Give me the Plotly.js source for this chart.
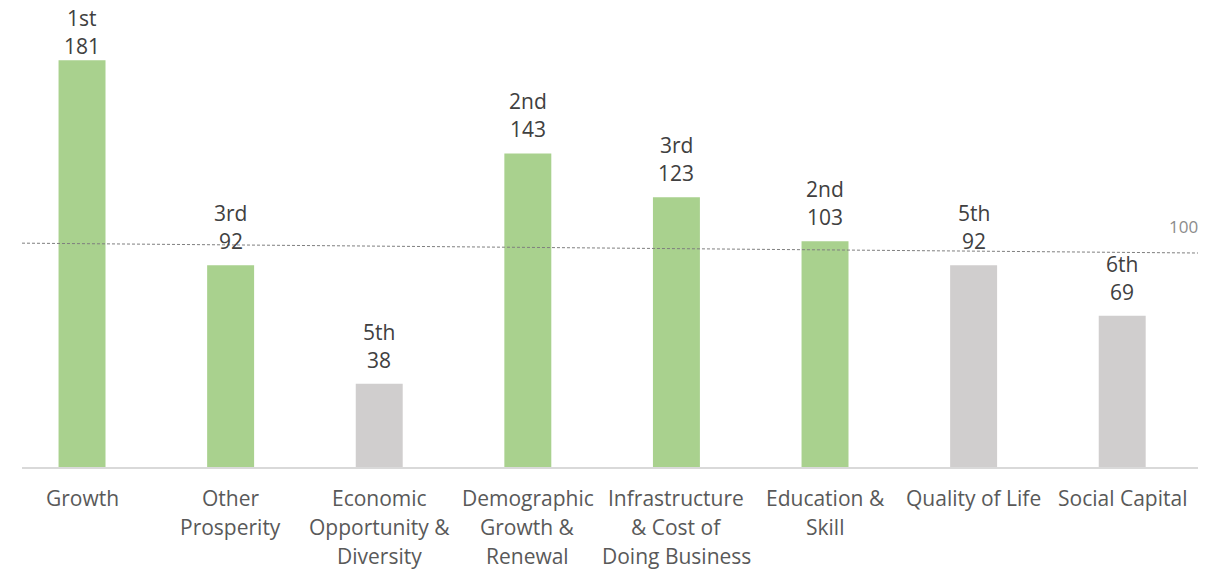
<!DOCTYPE html>
<html>
<head>
<meta charset="utf-8">
<script src="https://cdn.plot.ly/plotly-3.0.1.min.js"></script>
<style>html,body{margin:0;padding:0;background:#fff;}#chart{width:1206px;height:569px;}</style>
</head>
<body>
<div id="chart"></div>
<script>
const categories = ["Growth", "Other<br>Prosperity", "Economic<br>Opportunity &<br>Diversity", "Demographic<br>Growth &<br>Renewal", "Infrastructure<br>& Cost of<br>Doing Business", "Education &<br>Skill", "Quality of Life", "Social Capital"];
const values = [185.5, 92, 38, 143, 123, 103, 92, 69];
const labelValues = [181, 92, 38, 143, 123, 103, 92, 69];
const ranks = ["1st", "3rd", "5th", "2nd", "3rd", "2nd", "5th", "6th"];
const highlighted = [true, true, false, true, true, true, false, false];
const refLineX = [-0.404, 7.51];
const refLineY = [102.1, 97.6];
const refLabel = "100";

const idx = categories.map((_, i) => i);
const green = "#a9d18e", grey = "#d0cece";
const font = "Open Sans, Noto Sans, sans-serif";

const traces = [
  {
    type: "bar",
    x: idx,
    y: values,
    width: 0.316,
    marker: {color: highlighted.map(h => h ? green : grey)},
    hoverinfo: "none",
    showlegend: false
  },
  {
    type: "scatter",
    mode: "lines",
    x: refLineX,
    y: refLineY,
    line: {color: "#7f7f7f", width: 1, dash: "3px,2px"},
    hoverinfo: "none",
    showlegend: false,
    cliponaxis: false
  }
];

const annotations = [];
idx.forEach(i => {
  annotations.push({
    x: i, y: labelValues[i], xref: "x", yref: "y", text: ranks[i],
    showarrow: false, xanchor: "center", yanchor: "middle", yshift: 52,
    font: {family: font, size: 21, color: "#404040"}
  });
  annotations.push({
    x: i, y: labelValues[i], xref: "x", yref: "y", text: String(labelValues[i]),
    showarrow: false, xanchor: "center", yanchor: "middle", yshift: 24,
    font: {family: font, size: 21, color: "#404040"}
  });
  categories[i].split("<br>").forEach((line, k) => {
    annotations.push({
      x: i, y: 0, xref: "x", yref: "paper", text: line,
      showarrow: false, xanchor: "center", yanchor: "middle", yshift: -31 - 29 * k,
      font: {family: font, size: 21, color: "#595959"}
    });
  });
});
annotations.push({
  x: refLineX[1], y: refLineY[1], xref: "x", yref: "y",
  text: refLabel, showarrow: false,
  xanchor: "right", yanchor: "middle", yshift: 27, xshift: 2,
  font: {family: font, size: 17, color: "#8c8c8c"}
});

const layout = {
  width: 1206,
  height: 569,
  margin: {l: 22, r: 8, t: 0, b: 102},
  paper_bgcolor: "#fff",
  plot_bgcolor: "#fff",
  font: {family: font, color: "#595959"},
  xaxis: {
    range: [-0.404, 7.51],
    showticklabels: false,
    showgrid: false,
    zeroline: false,
    showline: true,
    linecolor: "#d9d9d9",
    linewidth: 2,
    ticks: "",
    fixedrange: true
  },
  yaxis: {
    range: [0, 213],
    visible: false,
    fixedrange: true
  },
  annotations: annotations
};

Plotly.newPlot("chart", traces, layout, {displayModeBar: false, staticPlot: true});
</script>
</body>
</html>
